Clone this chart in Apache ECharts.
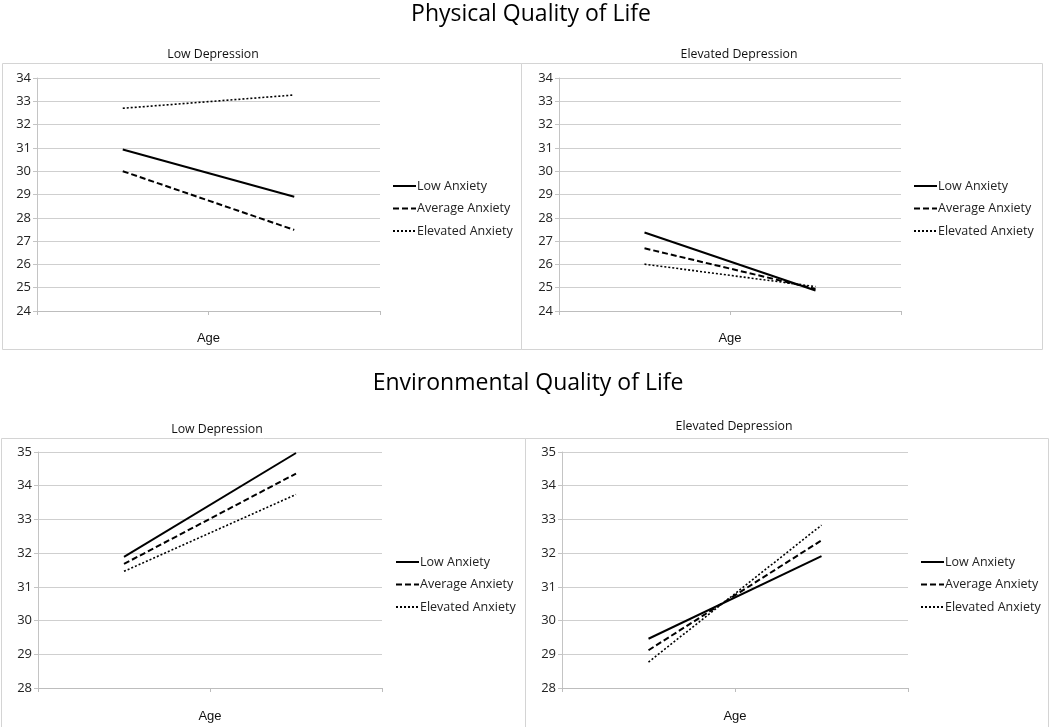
<!DOCTYPE html>
<html>
<head>
<meta charset="utf-8">
<script src="https://cdn.jsdelivr.net/npm/echarts@6/dist/echarts.min.js"></script>
<style>
html,body{margin:0;padding:0;background:#fff;}
#chart{width:1050px;height:727px;}
</style>
</head>
<body>
<div id="chart"></div>
<script>
// ---- data ----
const mainTitles = ['Physical Quality of Life', 'Environmental Quality of Life'];
const panelTitles = ['Low Depression', 'Elevated Depression', 'Low Depression', 'Elevated Depression'];
const categories = ['Younger', 'Older'];
const axisName = 'Age';
const seriesNames = ['Low Anxiety', 'Average Anxiety', 'Elevated Anxiety'];

// Physical QoL, Low Depression
const physLowLow = [30.93, 28.9];
const physLowAvg = [30.0, 27.48];
const physLowElev = [32.7, 33.27];
// Physical QoL, Elevated Depression
const physElevLow = [27.37, 24.88];
const physElevAvg = [26.69, 24.95];
const physElevElev = [26.01, 25.05];
// Environmental QoL, Low Depression
const envLowLow = [31.89, 34.97];
const envLowAvg = [31.68, 34.36];
const envLowElev = [31.46, 33.74];
// Environmental QoL, Elevated Depression
const envElevLow = [29.46, 31.91];
const envElevAvg = [29.12, 32.38];
const envElevElev = [28.77, 32.83];

const yRangeTop = [24, 34];
const yRangeBottom = [28, 35];

// ---- layout ----
const grids = [
  {left: 37, top: 78, width: 343, height: 233},
  {left: 559, top: 78, width: 342, height: 233},
  {left: 38, top: 452, width: 344, height: 236},
  {left: 562, top: 452, width: 346, height: 236}
];
const panelData = [
  [physLowLow, physLowAvg, physLowElev],
  [physElevLow, physElevAvg, physElevElev],
  [envLowLow, envLowAvg, envLowElev],
  [envElevLow, envElevAvg, envElevElev]
];
const lineStyles = [
  {type: 'solid', width: 2},
  {type: [6, 3], width: 2},
  {type: [2, 2], width: 1.6}
];
const legendPos = [
  {left: 392, top: 179},
  {left: 913, top: 179},
  {left: 395, top: 555},
  {left: 920, top: 555}
];
const subTitlePos = [[213, 54], [739, 54], [217, 429], [734, 426]];

const font = '"Open Sans", "Noto Sans", sans-serif';

const xAxes = [], yAxes = [], series = [], legends = [];
grids.forEach((g, i) => {
  xAxes.push({
    type: 'category', gridIndex: i, data: categories, boundaryGap: true,
    axisLine: {show: true, lineStyle: {color: '#bdbdbd', width: 1}},
    axisTick: {show: true, length: 4, lineStyle: {color: '#bdbdbd'}},
    axisLabel: {show: false},
    name: axisName, nameLocation: 'middle', nameGap: i < 2 ? 21 : 22,
    nameTextStyle: {fontFamily: '"Liberation Sans", Arial, sans-serif', fontSize: 13, color: '#111'}
  });
  const r = i < 2 ? yRangeTop : yRangeBottom;
  yAxes.push({
    type: 'value', gridIndex: i, min: r[0], max: r[1], interval: 1,
    axisLine: {show: true, lineStyle: {color: '#c4c4c4', width: 1}},
    axisTick: {show: true, length: 4, lineStyle: {color: '#c4c4c4'}},
    splitLine: {show: true, lineStyle: {color: '#cfcfcf', width: 1}},
    axisLabel: {fontFamily: font, fontSize: 13, color: '#222', margin: 6}
  });
  seriesNames.forEach((name, k) => {
    series.push({
      type: 'line', name: name, xAxisIndex: i, yAxisIndex: i,
      data: panelData[i][k], symbol: 'none', showSymbol: false, silent: true,
      lineStyle: Object.assign({color: '#000'}, lineStyles[k]),
      itemStyle: {color: '#000'},
      animation: false
    });
  });
  legends.push({
    orient: 'vertical', left: legendPos[i].left, top: legendPos[i].top,
    padding: 0,
    data: seriesNames, itemWidth: 23, itemHeight: 14, itemGap: 8.5,
    selectedMode: false,
    itemStyle: {opacity: 0, borderWidth: 0},
    textStyle: {fontFamily: font, fontSize: 12.5, color: '#222', padding: [0, 0, 0, -4], lineHeight: 14}
  });
});

const graphics = [];
// panel borders
[[2, 63, 519, 286], [521, 63, 521, 286], [1, 438, 524, 300], [525, 438, 523, 300]].forEach(b => {
  graphics.push({type: 'rect', shape: {x: b[0] + 0.5, y: b[1] + 0.5, width: b[2], height: b[3]},
    style: {fill: 'none', stroke: '#d4d4d4', lineWidth: 1}, silent: true, z: -1});
});
// main titles
graphics.push({type: 'text', x: 531, y: 14, style: {text: mainTitles[0], font: '23px ' + font, fill: '#000', align: 'center', verticalAlign: 'middle'}});
graphics.push({type: 'text', x: 528, y: 383, style: {text: mainTitles[1], font: '23px ' + font, fill: '#000', align: 'center', verticalAlign: 'middle'}});
panelTitles.forEach((t, i) => {
  graphics.push({type: 'text', x: subTitlePos[i][0], y: subTitlePos[i][1],
    style: {text: t, font: '12.3px ' + font, fill: '#111', align: 'center', verticalAlign: 'middle'}});
});

const chart = echarts.init(document.getElementById('chart'), null, {renderer: 'canvas'});
chart.setOption({
  animation: false,
  backgroundColor: '#fff',
  grid: grids,
  xAxis: xAxes,
  yAxis: yAxes,
  legend: legends,
  series: series,
  graphic: graphics
});
</script>
</body>
</html>
